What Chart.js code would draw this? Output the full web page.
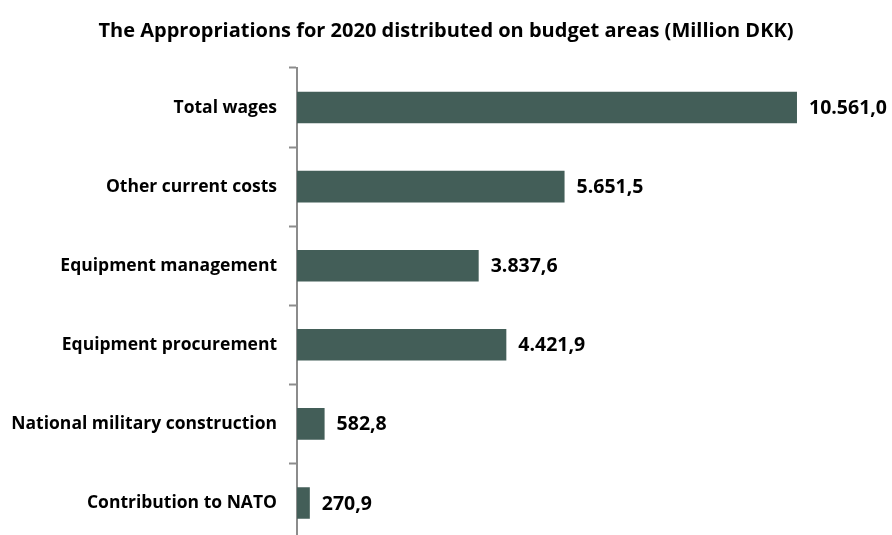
<!DOCTYPE html>
<html>
<head>
<meta charset="utf-8">
<script src="https://cdn.jsdelivr.net/npm/chart.js@4/dist/chart.umd.min.js"></script>
<style>
    html, body { margin: 0; padding: 0; background: #fff; overflow: hidden; }
    #wrap { width: 892px; height: 565px; }
</style>
</head>
<body>
<div id="wrap"><canvas id="chart"></canvas></div>
<script>
// Data
const CATEGORIES = [
    "Total wages",
    "Other current costs",
    "Equipment management",
    "Equipment procurement",
    "National military construction",
    "Contribution to NATO"
];
const APPROPRIATIONS = [10561.0, 5651.5, 3837.6, 4421.9, 582.8, 270.9];
const TITLE = "The Appropriations for 2020 distributed on budget areas (Million DKK)";
const X_MAX = 12568;

const FONT = "'Open Sans', 'Noto Sans', sans-serif";
const BAR_COLOR = "#435e58";
const AXIS_COLOR = "#8c8c8c";

// Danish number format: 10.561,0
function formatDkk(value) {
    const parts = value.toFixed(1).split(".");
    const intPart = parts[0].replace(/\B(?=(\d{3})+(?!\d))/g, ".");
    return intPart + "," + parts[1];
}

// Draw value labels right of each bar
const valueLabels = {
    id: "valueLabels",
    afterDatasetsDraw(chart) {
        const ctx = chart.ctx;
        const meta = chart.getDatasetMeta(0);
        ctx.save();
        ctx.font = "bold 19.5px " + FONT;
        ctx.fillStyle = "#000";
        ctx.textAlign = "left";
        ctx.textBaseline = "middle";
        meta.data.forEach((bar, i) => {
            ctx.fillText(formatDkk(APPROPRIATIONS[i]), bar.x + 12, bar.y + 1);
        });
        ctx.restore();
    }
};

const ctx = document.getElementById("chart").getContext("2d");
new Chart(ctx, {
    type: "bar",
    data: {
        labels: CATEGORIES,
        datasets: [{
            data: APPROPRIATIONS,
            backgroundColor: BAR_COLOR,
            categoryPercentage: 1,
            barPercentage: 0.4
        }]
    },
    options: {
        indexAxis: "y",
        responsive: true,
        maintainAspectRatio: false,
        animation: false,
        layout: { padding: 0 },
        scales: {
            x: {
                display: false,
                min: 0,
                max: X_MAX
            },
            y: {
                afterFit(scale) { scale.width = 297; },
                border: { display: true, color: AXIS_COLOR, width: 2 },
                grid: {
                    display: true,
                    offset: true,
                    drawOnChartArea: false,
                    drawTicks: true,
                    tickLength: 8,
                    tickWidth: 2,
                    tickColor: AXIS_COLOR
                },
                ticks: {
                    color: "#000",
                    padding: 12,
                    font: { family: FONT, size: 17.5, weight: "bold", lineHeight: 1.2 }
                }
            }
        },
        plugins: {
            legend: { display: false },
            tooltip: { enabled: false },
            title: {
                display: true,
                text: TITLE,
                color: "#000",
                font: { family: FONT, size: 20, weight: "bold", lineHeight: 1.2 },
                padding: { top: 19, bottom: 25 }
            }
        }
    },
    plugins: [valueLabels]
});
</script>
</body>
</html>
